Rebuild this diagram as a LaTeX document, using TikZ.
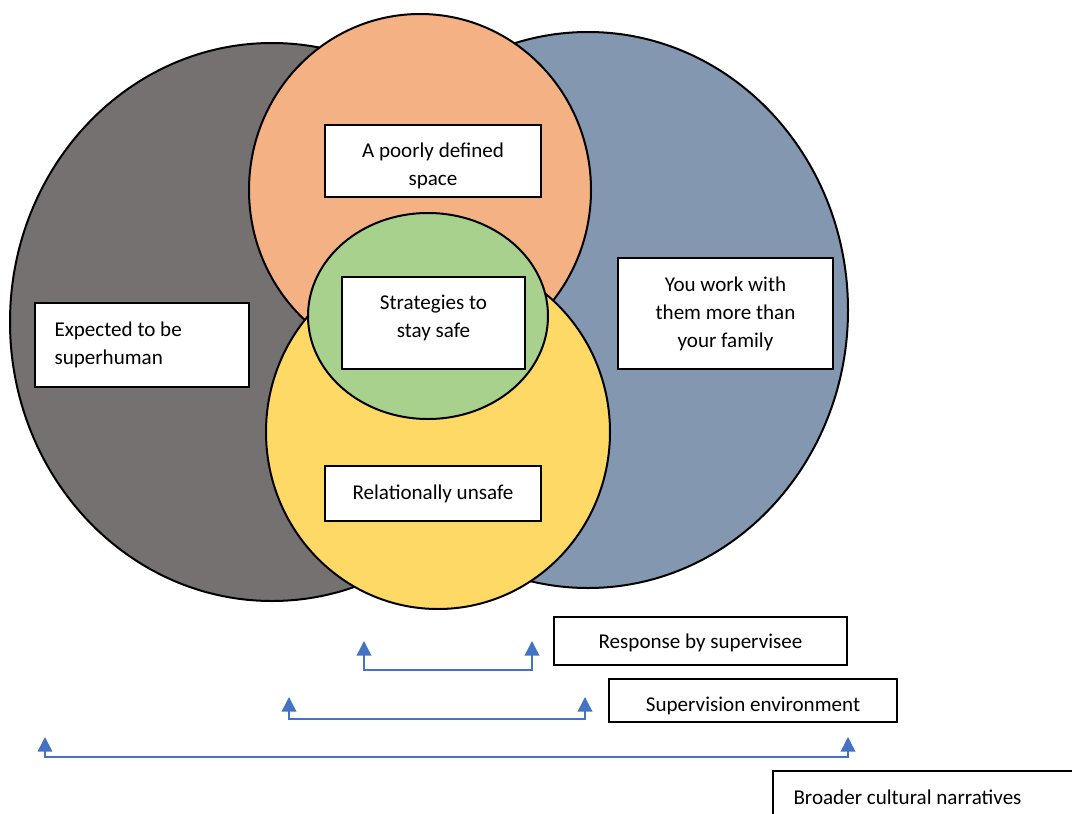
\documentclass[tikz,border=0pt]{standalone}
\usepackage{fontspec}
\setmainfont{Carlito}
\usetikzlibrary{arrows.meta}
\definecolor{stone}{HTML}{767171}
\definecolor{slate}{HTML}{8497B0}
\definecolor{peach}{HTML}{F4B183}
\definecolor{butter}{HTML}{FFD966}
\definecolor{leaf}{HTML}{A9D18E}
\definecolor{spanblue}{HTML}{4472C4}

\begin{document}
\begin{tikzpicture}[x=0.75pt,y=-0.75pt,
        blob/.style={draw=black,line width=1.5pt},
        lbl/.style={draw=black,fill=white,line width=1.1pt,inner sep=0pt},
        txt/.style={inner sep=0pt,font=\fontsize{15.8}{21}\selectfont,align=center},
        span/.style={draw=spanblue,line width=1.1pt,
            {Triangle[width=11pt,length=11pt]}-{Triangle[width=11pt,length=11pt]}}]
        \useasboundingbox (0,0) rectangle (1072,814);

        \filldraw [blob, fill=stone] (272,322) ellipse [x radius=262, y radius=279];
        \filldraw [blob, fill=slate] (588,310) ellipse [x radius=260, y radius=278];
        \filldraw [blob, fill=peach] (420,190) ellipse [x radius=171, y radius=176];
        \filldraw [blob, fill=butter] (438,432) ellipse [x radius=172, y radius=177];
        \filldraw [blob, fill=leaf] (428,316) ellipse [x radius=120, y radius=103];

        \node [lbl, minimum width=162pt, minimum height=54pt] (space) at (433,161) {};
        \node [lbl, minimum width=137.25pt, minimum height=69pt] (strat) at (433.5,323) {};
        \node [lbl, minimum width=160.5pt, minimum height=63pt] (super) at (142,345) {};
        \node [lbl, minimum width=161.25pt, minimum height=83.25pt] (family) at (725.5,313.5) {};
        \node [lbl, minimum width=162pt, minimum height=41.25pt] (unsafe) at (433,493.5) {};
        \node [lbl, minimum width=219.75pt, minimum height=36pt] (resp) at (700.5,641) {};
        \node [lbl, minimum width=216pt, minimum height=32.25pt] (envir) at (753,700.5) {};
        \node [lbl, minimum width=240pt, minimum height=39pt] (broad) at (933,797) {};

        \node [txt] (spacetxt) at ([yshift=-3.75pt]space.center) {A poorly defined\\space};
        \node [txt] (strattxt) at ([yshift=3.75pt]strat.center) {Strategies to\\stay safe};
        \node [txt, align=left, anchor=west] (supertxt) at ([xshift=15pt]super.west) {Expected to be\\superhuman};
        \node [txt] (familytxt) at (family.center) {You work with\\them more than\\your family};
        \node [txt] (unsafetxt) at (unsafe.center) {Relationally unsafe};
        \node [txt] (resptxt) at ([yshift=-1.5pt]resp.center) {Response by supervisee};
        \node [txt] (envirtxt) at ([yshift=-3.75pt]envir.center) {Supervision environment};
        \node [txt, anchor=west] (broadtxt) at ([xshift=15.75pt]broad.west) {Broader cultural narratives};

        \coordinate (s1l) at (364,641);
        \coordinate (s1m) at (448,670);
        \coordinate (s1r) at (532,641);
        \coordinate (s2l) at (289,697);
        \coordinate (s2m) at (437,719);
        \coordinate (s2r) at (585,697);
        \coordinate (s3l) at (45,737);
        \coordinate (s3m) at (446,757);
        \coordinate (s3r) at (848,737);
        \draw [span] (s1l) |- (s1m) -| (s1r);
        \draw [span] (s2l) |- (s2m) -| (s2r);
        \draw [span] (s3l) |- (s3m) -| (s3r);
    \end{tikzpicture}
\end{document}
